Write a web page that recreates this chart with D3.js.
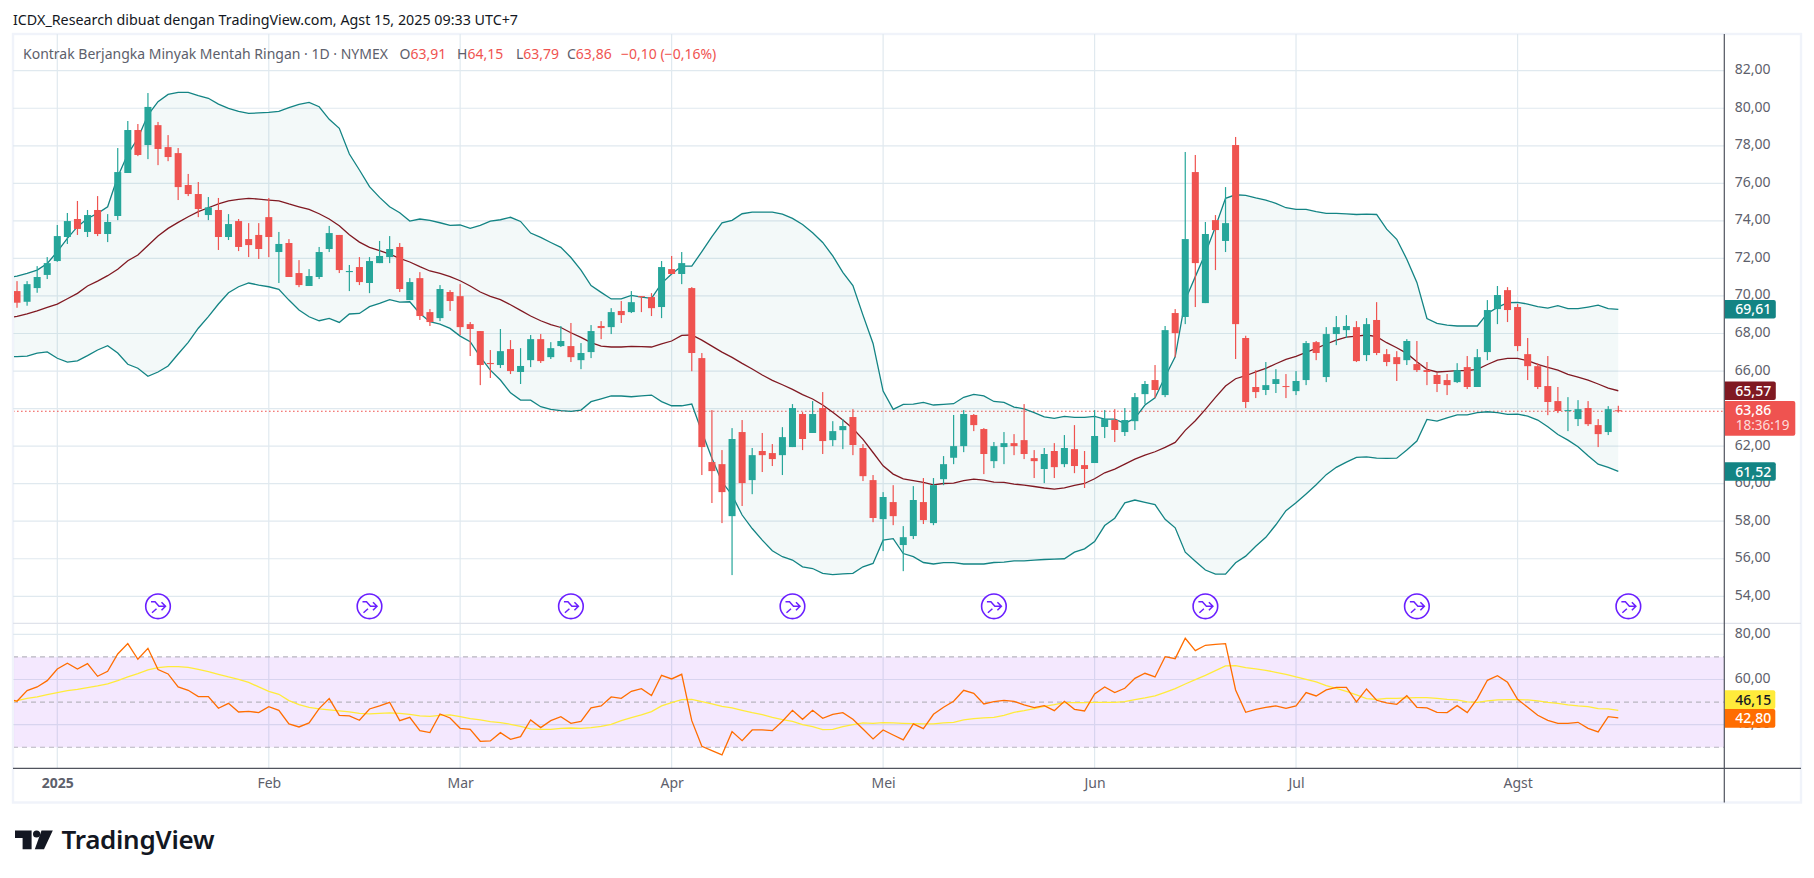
<!DOCTYPE html>
<html><head><meta charset="utf-8">
<script src="https://cdn.jsdelivr.net/npm/d3@7"></script>
<style>html,body{margin:0;padding:0;background:#fff}svg{display:block}text{font-family:"Noto Sans",sans-serif}</style>
</head><body><svg id="c" width="1814" height="878"></svg>
<script>
// First candle is bar -4; bar 0 = 2 Jan 2025, bar 155 = 15 Aug 2025
const firstBar=-4;
const opens=[70.26,69.69,70.42,71.12,71.86,73.14,74.10,73.41,74.58,73.30,
74.26,76.55,78.84,78.04,79.10,77.93,77.61,75.91,75.43,74.31,
74.58,73.14,73.99,73.03,73.25,74.20,72.34,72.82,71.22,70.53,
71.01,72.50,73.25,71.27,71.54,70.69,71.75,72.07,72.61,69.78,
70.95,69.14,68.82,70.21,69.99,68.50,68.13,66.43,66.32,67.17,
65.95,66.58,67.70,66.74,67.33,67.33,66.58,67.01,68.40,68.34,
69.20,69.14,69.99,69.94,69.41,71.43,71.17,70.42,66.69,61.15,
61.04,58.27,62.75,60.19,61.74,61.63,61.52,61.95,63.71,62.70,
64.03,62.32,62.85,63.55,61.90,60.19,58.11,59.02,56.73,57.21,
59.02,57.90,60.24,61.38,62.00,63.66,62.91,61.20,61.95,62.16,
62.32,61.36,60.78,61.74,61.04,61.84,60.99,61.10,63.02,63.39,
62.75,63.33,64.77,65.52,64.72,69.09,68.88,76.60,69.62,74.04,
72.93,78.04,67.76,65.15,64.99,65.31,65.20,64.93,65.52,67.54,
65.68,67.97,68.18,68.34,66.85,68.72,66.90,66.74,66.58,66.37,
66.05,65.79,65.52,65.41,66.21,65.15,67.01,69.30,70.31,69.41,
66.90,66.26,65.20,64.40,63.87,63.44,64.03,63.12,62.75,63.91];
const highs=[70.79,70.79,71.59,72.07,73.78,74.42,75.06,74.58,75.32,74.36,
77.88,79.32,79.16,80.81,79.27,78.57,77.88,76.50,76.07,75.27,
75.22,74.36,74.10,73.88,73.88,75.22,73.41,73.03,71.91,71.43,
72.61,73.73,73.25,71.65,72.07,72.07,72.93,73.19,72.82,70.95,
71.27,69.30,70.58,70.31,70.63,68.61,68.13,67.12,68.24,67.65,
67.22,67.92,67.97,67.54,68.40,68.56,67.49,68.45,68.66,69.35,
69.73,70.26,69.99,70.15,71.86,72.13,72.34,70.47,66.96,63.92,
61.79,62.96,63.39,61.90,62.70,62.11,63.01,64.24,63.81,64.40,
64.88,63.33,63.44,63.97,62.11,60.46,59.55,59.92,57.74,59.87,
60.30,60.30,61.47,63.66,63.92,63.71,62.96,62.22,62.75,62.64,
64.24,61.79,61.90,62.16,62.59,63.12,61.74,63.92,63.92,63.97,
64.03,64.83,65.47,66.32,68.40,69.30,77.67,77.51,73.94,74.31,
75.80,78.47,67.88,66.05,66.48,66.10,65.84,66.00,67.60,67.60,
68.34,68.93,68.98,68.66,68.82,69.67,67.17,67.06,67.70,67.60,
66.48,65.89,65.84,66.42,66.80,67.17,69.78,70.53,70.47,69.57,
67.76,66.42,66.80,65.15,64.61,64.45,64.40,63.44,64.13,64.15];
const lows=[69.37,69.48,70.17,70.90,71.82,72.77,73.25,73.14,73.19,72.87,
74.04,76.55,77.45,77.29,76.97,77.18,75.11,75.32,74.20,74.04,
72.45,72.98,72.39,72.07,71.97,72.07,70.69,71.01,70.47,70.53,
70.90,72.34,71.22,70.26,70.58,70.15,71.75,71.75,70.21,69.78,
68.72,68.40,68.66,69.20,67.92,66.80,65.25,65.63,66.16,65.84,
65.31,66.21,66.43,66.64,67.28,66.48,66.10,66.69,67.70,67.97,
68.56,69.09,69.14,68.93,68.82,71.17,70.63,65.99,60.46,58.97,
57.90,55.13,58.81,59.44,60.62,60.94,60.46,61.95,61.79,62.70,
61.58,62.00,61.84,61.52,60.14,57.95,56.41,57.79,55.34,57.05,
57.85,57.79,59.92,61.04,61.68,62.80,60.51,60.83,61.04,61.52,
61.31,60.30,60.03,60.30,60.88,60.56,59.77,61.10,62.43,62.22,
62.54,62.86,64.24,64.56,64.61,66.74,68.50,69.41,69.62,71.38,
72.34,66.64,64.03,64.56,64.72,64.83,64.56,64.72,65.25,66.58,
65.41,67.38,67.76,66.48,66.53,66.85,66.26,65.47,66.32,65.95,
65.25,64.88,64.72,65.36,65.04,65.15,66.58,68.50,68.61,67.06,
65.52,65.04,63.65,63.76,62.80,63.07,63.07,61.95,62.59,63.79];
const closes=[69.64,70.63,71.01,71.75,73.19,73.99,73.57,74.31,73.30,73.94,
76.60,78.84,77.51,80.07,77.83,77.40,75.80,75.43,74.63,74.72,
73.14,73.83,72.61,72.71,72.50,73.14,72.77,71.01,70.58,71.06,
72.34,73.35,71.38,71.33,70.74,71.86,72.13,72.50,70.37,70.74,
68.93,68.61,70.37,69.73,68.34,68.24,66.32,66.37,67.06,66.00,
66.27,67.70,66.53,67.22,67.60,66.74,66.96,68.13,68.29,69.14,
68.98,69.67,69.94,69.35,71.54,71.17,71.75,66.96,61.95,60.67,
59.55,62.38,60.03,61.52,61.52,61.31,62.48,64.03,62.38,63.71,
62.27,62.80,63.07,62.06,60.40,58.17,59.29,58.27,57.15,59.13,
58.06,59.92,61.04,62.00,63.71,63.12,61.58,62.00,62.16,62.00,
61.58,61.20,61.58,60.88,61.90,60.94,60.78,62.54,63.44,62.86,
63.39,64.61,65.31,64.99,68.18,68.02,73.03,71.75,73.30,73.51,
73.88,68.50,64.35,64.88,65.25,65.57,65.15,65.47,67.49,66.96,
67.97,68.34,68.40,66.53,68.50,66.96,66.48,66.37,67.60,66.05,
65.95,65.31,65.25,66.05,65.15,66.74,69.25,70.05,69.25,67.33,
66.26,65.15,64.35,63.87,63.92,63.97,63.17,62.64,63.97,63.86];

// Indicator series start one bar earlier (bar -5), just off the left edge
const lineFirstBar=-5;
const bbUpper=[70.95,71.06,71.20,71.38,71.73,
72.36,73.07,73.69,74.13,74.40,74.75,76.35,77.56,78.40,79.64,
80.35,80.74,80.85,80.85,80.67,80.53,80.22,79.99,79.83,79.73,
79.75,79.78,79.83,80.03,80.21,80.31,80.08,79.41,78.93,77.56,
76.71,75.82,75.25,74.75,74.43,73.99,74.10,74.03,73.90,73.76,
73.78,73.60,73.76,73.99,74.06,74.19,73.97,73.35,73.12,72.85,
72.59,72.05,71.38,70.55,70.19,69.84,69.84,70.03,69.94,69.87,
70.67,71.17,71.59,71.59,72.36,73.16,73.90,74.03,74.38,74.47,
74.47,74.47,74.36,74.13,73.81,73.37,72.85,72.13,71.26,70.55,
68.98,67.47,64.93,63.96,64.22,64.24,64.33,64.19,64.22,64.26,
64.60,64.76,64.68,64.38,64.33,64.08,63.99,63.78,63.56,63.48,
63.58,63.53,63.53,63.58,63.44,63.44,63.21,63.48,64.19,64.58,
65.70,66.76,69.78,71.03,72.27,73.69,75.20,75.39,75.36,75.22,
75.11,74.93,74.70,74.61,74.61,74.49,74.40,74.40,74.37,74.34,
74.36,74.34,73.56,73.02,71.96,70.72,68.80,68.54,68.45,68.40,
68.40,68.40,69.07,69.39,69.64,69.66,69.57,69.43,69.35,69.48,
69.32,69.32,69.41,69.51,69.32,69.29];
const bbBasis=[68.82,68.91,69.04,69.20,69.39,
69.57,69.85,70.14,70.53,70.79,71.08,71.42,71.88,72.18,72.69,
73.19,73.60,73.92,74.22,74.49,74.70,74.90,75.06,75.15,75.20,
75.16,75.11,75.07,74.90,74.75,74.61,74.38,74.10,73.74,73.26,
72.87,72.59,72.41,72.23,72.00,71.81,71.56,71.33,71.20,71.03,
70.81,70.53,70.21,69.98,69.80,69.53,69.23,68.93,68.68,68.47,
68.32,68.04,67.79,67.51,67.33,67.28,67.28,67.31,67.30,67.28,
67.45,67.60,67.90,67.92,67.65,67.33,67.01,66.73,66.41,66.11,
65.79,65.50,65.27,65.02,64.74,64.51,64.19,63.80,63.39,62.94,
62.36,61.66,60.95,60.51,60.26,60.16,60.07,59.94,60.01,60.03,
60.16,60.24,60.19,60.08,60.07,59.98,59.92,59.85,59.77,59.71,
59.78,59.91,60.01,60.26,60.58,60.78,61.04,61.31,61.52,61.70,
61.93,62.20,62.84,63.35,63.96,64.60,65.20,65.59,65.75,65.96,
66.14,66.39,66.62,66.78,66.99,67.21,67.44,67.65,67.81,67.86,
67.92,67.83,67.51,67.24,66.94,66.50,66.09,65.95,65.98,66.02,
66.03,66.09,66.35,66.58,66.67,66.67,66.55,66.35,66.19,66.05,
65.82,65.68,65.52,65.31,65.09,64.95];
const bbLower=[66.75,66.77,66.80,66.96,67.02,
66.68,66.48,66.54,66.82,67.12,67.35,66.96,66.36,66.15,65.72,
65.95,66.27,66.91,67.53,68.28,68.90,69.57,70.17,70.49,70.69,
70.58,70.49,70.35,69.78,69.25,68.89,68.68,68.80,68.59,69.04,
69.07,69.43,69.60,69.80,69.67,69.69,69.07,68.63,68.50,68.27,
67.86,67.56,66.76,66.05,65.52,64.84,64.45,64.45,64.10,63.96,
63.89,63.85,63.92,64.37,64.52,64.68,64.67,64.63,64.68,64.72,
64.37,64.15,64.15,64.24,62.77,61.35,60.10,59.39,58.33,57.61,
56.99,56.43,56.11,55.93,55.57,55.48,55.22,55.15,55.20,55.22,
55.57,55.75,56.99,57.07,56.28,56.11,55.80,55.72,55.79,55.79,
55.72,55.72,55.72,55.80,55.82,55.89,55.89,55.93,55.96,55.98,
56.00,56.35,56.53,56.92,57.77,58.16,58.98,59.13,59.00,58.88,
58.10,57.65,56.35,55.87,55.40,55.18,55.18,55.79,56.14,56.67,
57.14,57.81,58.56,58.98,59.45,59.94,60.48,60.87,61.15,61.40,
61.43,61.36,61.35,61.36,61.79,62.27,63.42,63.33,63.51,63.67,
63.67,63.78,63.83,63.78,63.69,63.71,63.60,63.39,63.03,62.62,
62.32,61.97,61.49,61.04,60.87,60.65];
const rsi=[51.8,50.35,55.07,56.70,59.50,
64.66,67.17,64.66,67.02,61.42,63.63,71.30,75.87,68.94,73.81,
64.37,62.45,56.70,55.22,52.42,52.42,47.26,49.47,45.63,45.93,
45.34,48.00,46.37,40.33,39.00,40.77,47.11,51.54,44.16,43.87,
41.95,46.96,48.29,49.91,41.80,43.28,37.37,36.49,44.75,42.98,
38.41,37.96,32.66,32.80,36.49,33.54,34.72,42.10,38.70,41.80,
43.57,40.62,41.50,47.41,48.29,52.27,51.68,54.78,55.96,52.86,
61.86,60.24,62.30,41.80,30.44,28.53,26.61,36.93,32.95,37.67,
37.67,37.37,41.50,46.37,42.39,46.37,42.83,44.60,45.34,42.39,
38.11,33.69,37.67,35.46,33.25,40.33,38.26,44.60,47.70,50.35,
55.22,53.90,49.17,50.21,50.80,50.35,48.73,47.55,48.44,46.22,
50.35,46.82,46.08,53.60,56.70,54.19,56.11,60.53,62.75,61.12,
70.12,69.23,78.23,72.77,75.14,75.58,75.87,55.37,45.49,46.82,
47.70,48.29,47.26,48.29,54.19,52.71,55.37,56.55,56.55,50.06,
55.81,50.80,49.62,49.03,52.86,47.70,47.41,45.49,45.34,48.44,
45.34,51.54,59.65,61.71,58.76,51.24,47.70,44.16,41.95,40.62,
40.62,41.06,38.41,36.79,43.57,42.98];
const rsiMa=[50.1,50.65,51.68,52.27,53.31,
54.19,55.07,55.66,56.40,57.14,58.02,59.50,61.12,62.60,64.22,
65.25,65.70,65.70,65.40,64.52,63.48,62.30,61.12,60.09,58.76,
56.70,54.78,53.45,50.65,48.88,47.70,46.96,46.52,46.08,45.63,
45.05,44.75,45.05,45.19,45.05,44.60,43.87,43.72,44.16,44.31,
43.57,42.69,42.10,41.36,40.92,40.18,39.29,38.11,37.96,37.96,
38.41,38.55,38.41,38.70,39.29,40.18,41.80,43.13,44.31,45.78,
48.29,49.76,51.09,51.24,50.21,49.17,48.14,47.41,46.37,45.34,
44.45,43.28,42.24,41.50,40.03,39.15,37.82,37.96,39.15,40.03,
40.77,40.62,40.92,40.77,40.62,40.47,40.33,40.33,40.77,41.06,
42.10,42.69,42.98,43.28,44.16,45.49,46.22,47.11,48.14,48.88,
49.76,49.76,49.76,49.91,49.91,49.91,50.21,51.09,51.83,52.71,
54.34,55.96,58.02,59.94,61.86,63.92,65.99,66.14,65.25,64.66,
64.07,63.19,62.30,61.12,60.09,58.91,57.29,56.11,54.78,53.16,
51.54,51.24,51.68,51.68,51.83,51.98,51.98,51.68,51.24,50.95,
50.06,49.91,50.50,50.95,51.09,51.09,50.95,50.50,49.91,49.47,
48.73,48.29,48.00,47.11,46.96,46.37];

const priceTicks=[82,80,78,76,74,72,70,68,66,64,62,60,58,56,54];
const rsiTicks=[80,60,40];
const rsiGrid=[80,60,40];
const rsiDashed=[70,50,30];
const monthBars=[0,21,40,61,82,103,123,145];
const monthLabels=["2025","Feb","Mar","Apr","Mei","Jun","Jul","Agst"];
const rollBars=[10,31,51,73,93,114,135,156];
const lastPrice=63.86;
const bbLabels=["69,61","65,57","61,52"];
const rsiLabels=["46,15","42,80"];
const titleText="ICDX_Research dibuat dengan TradingView.com, Agst 15, 2025 09:33 UTC+7";
const symbolText="Kontrak Berjangka Minyak Mentah Ringan · 1D · NYMEX";
const ohlcText=[["O","63,91"],["H","64,15"],["L","63,79"],["C","63,86"]];
const changeText="−0,10 (−0,16%)";

const L=13,R=1724.3,FR=1801,T=34,B=768.3,SEP=623.3,FB=802.5;
const UP="#26a69a",DN="#ef5350",BB="#138484",BAS="#801922",RSIc="#ff6d00",MAc="#ffeb3b",GRID="#e0e9ef",TXT="#5d606b";
const svg=d3.select("#c");
const x=d3.scaleLinear().domain([0,155]).range([57.3,1618.3]);
const y=d3.scaleLinear().domain([54,82]).range([596.3,70.7]);
const yR=d3.scaleLinear().domain([30,80]).range([747.3,634.3]);
const fmt=d=>d3.format(".2f")(d).replace(".",",");
const bars=opens.map((o,i)=>({b:i+firstBar,o,h:highs[i],l:lows[i],c:closes[i]}));
const bar=i=>i+lineFirstBar;

const defs=svg.append("defs");
defs.append("clipPath").attr("id","cp").append("rect").attr("x",L+1).attr("y",T).attr("width",R-L-1).attr("height",SEP-T);
defs.append("clipPath").attr("id","cr").append("rect").attr("x",L+1).attr("y",SEP).attr("width",R-L-1).attr("height",B-SEP);

svg.append("text").attr("x",13).attr("y",25).attr("font-size",15.3).attr("fill","#131722")
  .attr("textLength",505).attr("lengthAdjust","spacingAndGlyphs").text(titleText);

// frame
svg.append("rect").attr("x",L).attr("y",T).attr("width",FR-L).attr("height",FB-T).attr("fill","none").attr("stroke","#f0f3fa").attr("stroke-width",2.4);

// grid
const g=svg.append("g").attr("stroke",GRID).attr("stroke-width",1.2);
g.selectAll(".v").data(monthBars).join("line").attr("x1",d=>x(d)).attr("x2",d=>x(d)).attr("y1",T).attr("y2",B);
g.selectAll(".h").data(priceTicks).join("line").attr("x1",L).attr("x2",R).attr("y1",d=>y(d)).attr("y2",d=>y(d));
g.selectAll(".r").data(rsiGrid).join("line").attr("x1",L).attr("x2",R).attr("y1",d=>yR(d)).attr("y2",d=>yR(d));

// price pane
const pane=svg.append("g").attr("clip-path","url(#cp)");
pane.append("line").attr("x1",L).attr("x2",R).attr("y1",y(lastPrice)).attr("y2",y(lastPrice)).attr("stroke",DN).attr("stroke-width",1.1).attr("stroke-dasharray","1.6 2.4");
pane.append("path").datum(bbUpper).attr("fill",BB).attr("fill-opacity",0.05)
  .attr("d",d3.area().x((d,i)=>x(bar(i))).y1(d=>y(d)).y0((d,i)=>y(bbLower[i])));
const lineP=d3.line().x((d,i)=>x(bar(i))).y(d=>y(d));
pane.append("path").attr("d",lineP(bbUpper)).attr("fill","none").attr("stroke",BB).attr("stroke-width",1.3);
pane.append("path").attr("d",lineP(bbLower)).attr("fill","none").attr("stroke",BB).attr("stroke-width",1.3);
pane.append("path").attr("d",lineP(bbBasis)).attr("fill","none").attr("stroke",BAS).attr("stroke-width",1.3);
const col=d=>d.c>=d.o?UP:DN;
pane.selectAll(".w").data(bars).join("rect").attr("x",d=>x(d.b)-0.6).attr("width",1.2).attr("y",d=>y(d.h)).attr("height",d=>y(d.l)-y(d.h)).attr("fill",col);
pane.selectAll(".b").data(bars).join("rect").attr("x",d=>x(d.b)-3.5).attr("width",7).attr("y",d=>y(Math.max(d.o,d.c))).attr("height",d=>Math.max(1,Math.abs(y(d.o)-y(d.c)))).attr("fill",col);

// contract-roll markers
const roll=svg.append("g").selectAll("g").data(rollBars).join("g").attr("transform",d=>`translate(${x(d)},606.3)`);
roll.append("circle").attr("r",12.3).attr("fill","#fff").attr("stroke","#6a1fff").attr("stroke-width",1.6);
roll.append("path").attr("fill","none").attr("stroke","#6a1fff").attr("stroke-width",1.5)
  .attr("d","M-7,-4.5H-3L1,0H7.5M3.5,-4L7.5,0L3.5,4M-1.5,2.5L-6,6.5");

// RSI pane
const rp=svg.append("g").attr("clip-path","url(#cr)");
rp.append("rect").attr("x",L).attr("width",R-L).attr("y",yR(70)).attr("height",yR(30)-yR(70)).attr("fill","rgb(155,39,241)").attr("fill-opacity",0.105);
rp.selectAll(".d").data(rsiDashed).join("line").attr("x1",L).attr("x2",R).attr("y1",d=>yR(d)).attr("y2",d=>yR(d)).attr("stroke","#b8b5c0").attr("stroke-width",1.1).attr("stroke-dasharray","5 4");
const lineR=d3.line().x((d,i)=>x(bar(i))).y(d=>yR(d));
rp.append("path").attr("d",lineR(rsiMa)).attr("fill","none").attr("stroke",MAc).attr("stroke-width",1.3);
rp.append("path").attr("d",lineR(rsi)).attr("fill","none").attr("stroke",RSIc).attr("stroke-width",1.3);

// structural lines
svg.append("line").attr("x1",L).attr("x2",FR).attr("y1",SEP).attr("y2",SEP).attr("stroke","#e0e3eb").attr("stroke-width",1.2);
svg.append("line").attr("x1",L).attr("x2",FR).attr("y1",B).attr("y2",B).attr("stroke","#50535e").attr("stroke-width",1.2);
svg.append("line").attr("x1",R).attr("x2",R).attr("y1",T).attr("y2",FB).attr("stroke","#50535e").attr("stroke-width",1.2);

// axes
const ax=svg.append("g").attr("transform",`translate(${R},-1.5)`).call(d3.axisRight(y).tickValues(priceTicks).tickFormat(fmt).tickSize(0).tickPadding(10.5));
const ax2=svg.append("g").attr("transform",`translate(${R},-1.2)`).call(d3.axisRight(yR).tickValues(rsiTicks).tickFormat(fmt).tickSize(0).tickPadding(10.5));
const ax3=svg.append("g").attr("transform",`translate(0,778)`).call(d3.axisBottom(x).tickValues(monthBars).tickFormat((d,i)=>monthLabels[i]).tickSize(0).tickPadding(0));
[ax,ax2,ax3].forEach(a=>{a.select(".domain").remove();a.selectAll("text").attr("font-size",14).attr("font-family",'"Noto Sans",sans-serif').attr("fill",TXT);});
ax3.selectAll("text").filter((d,i)=>i===0).attr("font-weight",700);

// end-of-series labels
function tag(yc,h,w,fill,txt,tc){
  svg.append("path").attr("fill",fill).attr("d",`M${R+0.6},${yc-h/2}H${R+w-2}q2,0 2,2V${yc+h/2-2}q0,2 -2,2H${R+0.6}Z`);
  svg.append("text").attr("x",R+11).attr("y",yc).attr("dy","0.36em").attr("font-size",14).attr("font-weight",500).attr("fill",tc).text(txt);
}
tag(y(bbUpper[bbUpper.length-1]),18.4,51.5,BB,bbLabels[0],"#fff");
tag(y(bbBasis[bbBasis.length-1]),18.4,51.5,BAS,bbLabels[1],"#fff");
tag(y(bbLower[bbLower.length-1]),18.4,51.5,BB,bbLabels[2],"#fff");
svg.append("path").attr("fill",DN).attr("d",`M${R+0.6},401H${R+69}q2,0 2,2V433.7q0,2 -2,2H${R+0.6}Z`);
svg.append("text").attr("x",R+11).attr("y",409.5).attr("dy","0.36em").attr("font-size",14).attr("font-weight",500).attr("fill","#fff").text(fmt(lastPrice));
svg.append("text").attr("x",R+11.5).attr("y",425).attr("dy","0.36em").attr("font-size",13.5).attr("fill","#fff").attr("fill-opacity",0.8).text("18:36:19");
tag(699.6,18.8,51,MAc,rsiLabels[0],"#131722");
tag(718.4,18.8,51,RSIc,rsiLabels[1],"#fff");

// legend
svg.append("text").attr("x",23).attr("y",58.5).attr("font-size",14).attr("fill",TXT).text(symbolText);
const lx=[399.5,457,516,567];
ohlcText.forEach((p,i)=>{
  const t=svg.append("text").attr("x",lx[i]).attr("y",58.5).attr("font-size",14);
  t.append("tspan").attr("fill",TXT).text(p[0]);
  t.append("tspan").attr("fill",DN).text(p[1]);
});
svg.append("text").attr("x",621).attr("y",58.5).attr("font-size",14).attr("fill",DN).text(changeText);

// logo
const logo=svg.append("g").attr("fill","#131722");
logo.append("path").attr("d","M15,830.6H31.6V849.3H22.6V838H15Z");
logo.append("circle").attr("cx",36.6).attr("cy",834).attr("r",3.6);
logo.append("path").attr("d","M41.5,830.6H52.8L44,849.3H34.8Z");
svg.append("text").attr("x",61.5).attr("y",849).attr("font-size",26).attr("font-weight",600).attr("font-family","Inter,sans-serif").attr("fill","#131722").attr("letter-spacing","-0.3").text("TradingView");
</script></body></html>
